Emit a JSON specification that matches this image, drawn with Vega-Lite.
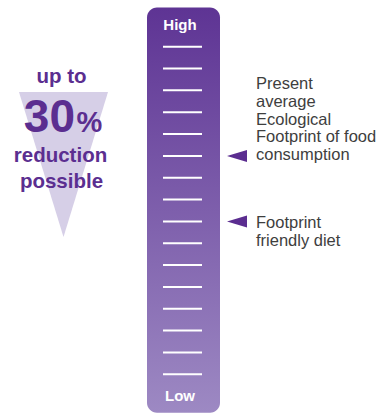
{
  "$schema": "https://vega.github.io/schema/vega-lite/v6.json",
  "width": 380,
  "height": 414,
  "padding": 0,
  "autosize": {"type": "fit", "contains": "padding"},
  "config": {"view": {"stroke": null}, "font": "Liberation Sans"},
  "datasets": {
    "bar": [{"low": -0.76, "high": 17.8}],
    "ticks": [{"level": 1}, {"level": 2}, {"level": 3}, {"level": 4}, {"level": 5}, {"level": 6}, {"level": 7}, {"level": 8}, {"level": 9}, {"level": 10}, {"level": 11}, {"level": 12}, {"level": 13}, {"level": 14}, {"level": 15}, {"level": 16}],
    "ends": [{"label": "High", "level": 17}, {"label": "Low", "level": 0}],
    "diets": [
      {"diet": "present", "label": "Present\naverage\nEcological\nFootprint of food\nconsumption", "level": 11},
      {"diet": "friendly", "label": "Footprint\nfriendly diet", "level": 8}
    ],
    "callout": [{"text": "up to 30% reduction possible"}]
  },
  "layer": [
    {
      "data": {"name": "callout"},
      "mark": {"type": "point", "shape": "M-0.614,-1L0.614,-1L0,1Z", "filled": true, "fill": "#d6cfe7", "opacity": 1, "strokeWidth": 0, "size": 21025},
      "encoding": {
        "x": {"datum": 63.5, "type": "quantitative", "scale": {"domain": [0, 380], "nice": false, "zero": false}, "axis": null},
        "y": {"datum": 10.61, "type": "quantitative", "scale": {"domain": [-0.818, 18.138], "nice": false, "zero": false}, "axis": null}
      }
    },
    {
      "data": {"name": "callout"},
      "mark": {"type": "text", "text": "up to", "align": "center", "baseline": "alphabetic", "fontSize": 20.5, "fontWeight": "bold", "fill": "#5b2e90"},
      "encoding": {
        "x": {"datum": 61.5, "type": "quantitative"},
        "y": {"datum": 14.315, "type": "quantitative"}
      }
    },
    {
      "data": {"name": "callout"},
      "mark": {"type": "text", "text": "30", "align": "right", "baseline": "alphabetic", "fontSize": 46, "fontWeight": "bold", "fill": "#5b2e90"},
      "encoding": {
        "x": {"datum": 75, "type": "quantitative"},
        "y": {"datum": 12.094, "type": "quantitative"}
      }
    },
    {
      "data": {"name": "callout"},
      "mark": {"type": "text", "text": "%", "align": "left", "baseline": "alphabetic", "fontSize": 29, "fontWeight": "bold", "fill": "#5b2e90"},
      "encoding": {
        "x": {"datum": 76.5, "type": "quantitative"},
        "y": {"datum": 12.094, "type": "quantitative"}
      }
    },
    {
      "data": {"name": "callout"},
      "mark": {"type": "text", "text": "reduction", "align": "center", "baseline": "alphabetic", "fontSize": 20.5, "fontWeight": "bold", "fill": "#5b2e90"},
      "encoding": {
        "x": {"datum": 60.5, "type": "quantitative"},
        "y": {"datum": 10.707, "type": "quantitative"}
      }
    },
    {
      "data": {"name": "callout"},
      "mark": {"type": "text", "text": "possible", "align": "center", "baseline": "alphabetic", "fontSize": 20.5, "fontWeight": "bold", "fill": "#5b2e90"},
      "encoding": {
        "x": {"datum": 61.5, "type": "quantitative"},
        "y": {"datum": 9.516, "type": "quantitative"}
      }
    },
    {
      "data": {"name": "bar"},
      "mark": {"type": "rect", "cornerRadius": 10, "fill": {"gradient": "linear", "x1": 0, "y1": 0, "x2": 0, "y2": 1, "stops": [{"offset": 0, "color": "#5e3494"}, {"offset": 1, "color": "#9d89c3"}]}},
      "encoding": {
        "x": {"datum": 147, "type": "quantitative"},
        "x2": {"datum": 220},
        "y": {"field": "low", "type": "quantitative"},
        "y2": {"field": "high"}
      }
    },
    {
      "data": {"name": "ticks"},
      "mark": {"type": "rule", "stroke": "#ffffff", "strokeWidth": 2},
      "encoding": {
        "x": {"datum": 163, "type": "quantitative"},
        "x2": {"datum": 202},
        "y": {"field": "level", "type": "quantitative"}
      }
    },
    {
      "data": {"name": "ends"},
      "mark": {"type": "text", "align": "center", "baseline": "middle", "fontSize": 15, "fontWeight": "bold", "fill": "#ffffff"},
      "encoding": {
        "x": {"datum": 180, "type": "quantitative"},
        "y": {"field": "level", "type": "quantitative"},
        "text": {"field": "label"}
      }
    },
    {
      "data": {"name": "diets"},
      "mark": {"type": "point", "shape": "M1,-0.6L1,0.6L-1,0Z", "filled": true, "fill": "#5b2d90", "opacity": 1, "strokeWidth": 0, "size": 400},
      "encoding": {
        "x": {"datum": 237, "type": "quantitative"},
        "y": {"field": "level", "type": "quantitative"}
      }
    },
    {
      "data": {"name": "diets"},
      "transform": [{"filter": "datum.diet === 'present'"}],
      "mark": {"type": "text", "align": "left", "baseline": "top", "dy": -79.5, "fontSize": 16.5, "letterSpacing": 0.25, "lineHeight": 17.7, "lineBreak": "\n", "fill": "#3e3e3e"},
      "encoding": {
        "x": {"datum": 256, "type": "quantitative"},
        "y": {"field": "level", "type": "quantitative"},
        "text": {"field": "label"}
      }
    },
    {
      "data": {"name": "diets"},
      "transform": [{"filter": "datum.diet === 'friendly'"}],
      "mark": {"type": "text", "align": "left", "baseline": "top", "dy": -6.5, "fontSize": 16.5, "letterSpacing": 0.25, "lineHeight": 17.7, "lineBreak": "\n", "fill": "#3e3e3e"},
      "encoding": {
        "x": {"datum": 256, "type": "quantitative"},
        "y": {"field": "level", "type": "quantitative"},
        "text": {"field": "label"}
      }
    }
  ]
}
